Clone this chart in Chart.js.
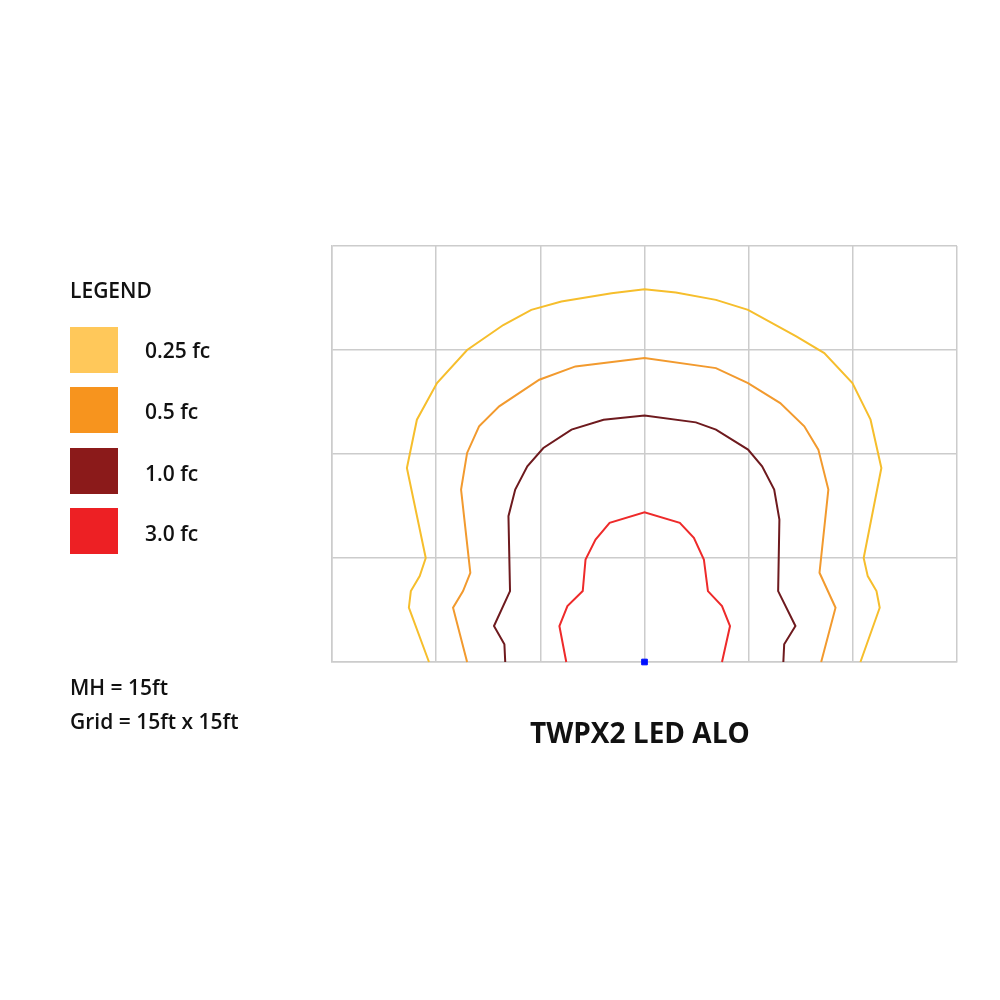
<!DOCTYPE html>
<html><head><meta charset="utf-8">
<script src="https://cdn.jsdelivr.net/npm/chart.js@4"></script>
<style>
body{margin:0;background:#fff;font-family:"Open Sans",Lato,sans-serif;}
#wrap{position:absolute;left:0;top:0;width:1000px;height:1000px;}
.t{position:absolute;color:#111;font-weight:600;font-size:21px;}
.sw{position:absolute;left:70px;width:48px;height:46px;}
</style></head><body>
<div id="wrap"><canvas id="c" width="1000" height="1000"></canvas></div>
<div class="t" style="left:70px;top:276px">LEGEND</div>
<div class="sw" style="top:327px;background:#FFC85A"></div><div class="t" style="left:145px;top:336px">0.25 fc</div>
<div class="sw" style="top:387px;background:#F7941E"></div><div class="t" style="left:145px;top:397px">0.5 fc</div>
<div class="sw" style="top:448px;background:#8B1A1A"></div><div class="t" style="left:145px;top:459px">1.0 fc</div>
<div class="sw" style="top:508px;background:#ED2024"></div><div class="t" style="left:145px;top:519px">3.0 fc</div>
<div class="t" style="left:70px;top:673px">MH = 15ft</div>
<div class="t" style="left:70px;top:707px">Grid = 15ft x 15ft</div>
<div class="t" style="left:530px;top:713px;font-size:28px;font-weight:bold;">TWPX2 LED ALO</div>
<script>
const levels=["0.25 fc","0.5 fc","1.0 fc","3.0 fc"];
const xTicks=[-3,-2,-1,0,1,2,3];
const yTicks=[0,1,2,3,4];
const c025x=[-2.069,-2.262,-2.243,-2.158,-2.100,-2.281,-2.185,-1.992,-1.703,-1.356,-1.087,-0.798,-0.316,0,0.301,0.686,0.994,1.457,1.726,1.996,2.170,2.274,2.104,2.143,2.227,2.258,2.073];
const c025y=[0,0.522,0.682,0.826,1.0,1.866,2.33,2.682,3.0,3.24,3.386,3.466,3.546,3.584,3.552,3.482,3.386,3.13,2.97,2.682,2.33,1.866,1.0,0.826,0.682,0.522,0];
const c05x=[-1.703,-1.838,-1.742,-1.672,-1.761,-1.703,-1.588,-1.395,-1.010,-0.663,0,0.686,0.994,1.303,1.534,1.669,1.765,1.680,1.834,1.696];
const c05y=[0,0.522,0.682,0.858,1.658,2.01,2.266,2.458,2.714,2.842,2.922,2.826,2.682,2.490,2.266,2.042,1.658,0.858,0.522,0];
const c1x=[-1.337,-1.345,-1.445,-1.291,-1.306,-1.241,-1.125,-0.971,-0.701,-0.393,0,0.493,0.686,0.840,0.994,1.129,1.245,1.295,1.283,1.449,1.341,1.333];
const c1y=[0,0.170,0.346,0.682,1.402,1.658,1.882,2.058,2.234,2.330,2.371,2.304,2.234,2.138,2.042,1.882,1.658,1.370,0.682,0.346,0.170,0];
const c3x=[-0.751,-0.817,-0.740,-0.593,-0.566,-0.470,-0.335,0,0.339,0.474,0.570,0.609,0.744,0.821,0.744];
const c3y=[0,0.346,0.538,0.682,0.986,1.178,1.338,1.44,1.338,1.194,0.986,0.682,0.538,0.346,0];
const pts=(xs,ys)=>xs.map((x,i)=>({x,y:ys[i]}));
const mk=(l,xs,ys,col)=>({label:l,data:pts(xs,ys),showLine:true,borderColor:col,borderWidth:2,pointRadius:0,tension:0,fill:false});
new Chart(document.getElementById('c'),{type:'scatter',
data:{datasets:[mk(levels[0],c025x,c025y,'#F6BE2C'),mk(levels[1],c05x,c05y,'#F29A2E'),mk(levels[2],c1x,c1y,'#6E1A1E'),mk(levels[3],c3x,c3y,'#EE2A2A'),
{label:'luminaire',data:[{x:0,y:0.0}],pointStyle:'rect',pointRadius:4,backgroundColor:'#0010ff',borderColor:'#0010ff',showLine:false}]},
options:{responsive:false,animation:false,clip:false,layout:{padding:{left:332,right:43,top:246,bottom:338}},
plugins:{legend:{display:false},tooltip:{enabled:false}},
scales:{x:{type:'linear',min:-3,max:3,afterBuildTicks:a=>{a.ticks=xTicks.map(v=>({value:v}));},ticks:{display:false},grid:{color:'#cccccc',lineWidth:1.5,drawTicks:false},border:{color:'#cccccc',width:1.5}},
y:{type:'linear',min:0,max:4,afterBuildTicks:a=>{a.ticks=yTicks.map(v=>({value:v}));},ticks:{display:false},grid:{color:'#cccccc',lineWidth:1.5,drawTicks:false},border:{color:'#cccccc',width:1.5}}}}});
</script></body></html>
